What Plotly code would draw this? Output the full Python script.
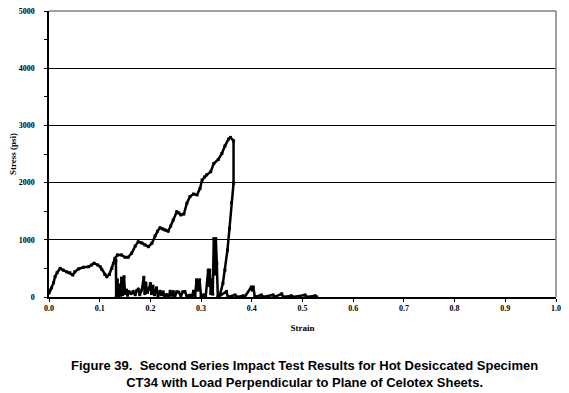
import plotly.graph_objects as go

# ---- data ----
main_strain = [0.000, 0.002, 0.005, 0.009, 0.012, 0.016, 0.022, 0.028, 0.035, 0.041, 0.047, 0.051,
               0.058, 0.068, 0.078, 0.084, 0.089, 0.096, 0.101, 0.104, 0.110, 0.114, 0.119, 0.124,
               0.127, 0.130, 0.135, 0.143, 0.150, 0.156, 0.163, 0.170, 0.176, 0.183, 0.189, 0.196,
               0.203, 0.209, 0.214, 0.219, 0.224, 0.229, 0.235, 0.240, 0.245, 0.252, 0.256, 0.260,
               0.266, 0.272, 0.278, 0.285, 0.292, 0.298, 0.302, 0.307, 0.311, 0.319, 0.325, 0.334,
               0.341, 0.347, 0.354, 0.358, 0.364, 0.364]
main_stress = [70, 120, 160, 250, 355, 425, 500, 470, 440, 425, 385, 440,
               490, 520, 530, 560, 590, 560, 530, 485, 395, 355, 395, 500,
               590, 675, 735, 735, 695, 695, 765, 890, 965, 945, 910, 880,
               940, 1070, 1150, 1210, 1190, 1170, 1150, 1240, 1345, 1490, 1470, 1435,
               1450, 1640, 1755, 1800, 1785, 1900, 2045, 2100, 2135, 2190, 2335, 2405,
               2510, 2640, 2760, 2790, 2730, 1990]

rise_strain = [0.334, 0.337, 0.343, 0.347, 0.352, 0.356, 0.360, 0.364]
rise_stress = [0, 35, 240, 470, 820, 1200, 1650, 1990]

noise_strain = [0.132, 0.1325, 0.135, 0.137, 0.139, 0.141, 0.143, 0.145, 0.148, 0.150, 0.153, 0.155,
                0.158, 0.162, 0.166, 0.170, 0.173, 0.176, 0.179, 0.183, 0.187, 0.189, 0.191, 0.194,
                0.197, 0.200, 0.202, 0.205, 0.208, 0.212, 0.215, 0.219, 0.222, 0.225, 0.228, 0.232,
                0.236, 0.239, 0.242, 0.245, 0.248, 0.252, 0.256, 0.260, 0.264, 0.268, 0.272, 0.277,
                0.281, 0.285, 0.288, 0.291, 0.294, 0.297, 0.300, 0.305, 0.309, 0.314, 0.316, 0.317,
                0.319, 0.321, 0.323, 0.325, 0.327, 0.329, 0.331, 0.333, 0.350, 0.353, 0.367, 0.370,
                0.383, 0.386, 0.399, 0.401, 0.403, 0.406, 0.419, 0.422, 0.442, 0.445, 0.459, 0.462,
                0.478, 0.481, 0.505, 0.508, 0.525, 0.528]
noise_stress = [640, 0, 300, 20, 210, 30, 330, 40, 355, 60, 120, 30,
                90, 60, 95, 40, 110, 135, 40, 120, 345, 60, 245, 80,
                140, 235, 60, 190, 40, 160, 20, 100, 40, 90, 0, 40,
                0, 100, 30, 95, 0, 90, 85, 20, 90, 95, 10, 30,
                0, 100, 0, 300, 120, 300, 0, 35, 0, 470, 200, 470,
                60, 300, 50, 1020, 400, 1020, 590, 0, 95, 0, 35, 0,
                20, 0, 175, 120, 175, 0, 35, 0, 35, 0, 55, 0,
                20, 0, 35, 0, 20, 0]

x_ticks = [0.0, 0.1, 0.2, 0.3, 0.4, 0.5, 0.6, 0.7, 0.8, 0.9, 1.0]
y_ticks = [0, 1000, 2000, 3000, 4000, 5000]

caption = ("Figure 39.  Second Series Impact Test Results for Hot Desiccated Specimen<br>"
           "CT34 with Load Perpendicular to Plane of Celotex Sheets.")

tick_font = dict(family="Liberation Serif", size=8, color="black", weight="bold")
line_style = dict(color="black", width=2.5)
marker_style = dict(color="black", size=3, symbol="square")

fig = go.Figure()
fig.add_trace(go.Scatter(x=noise_strain, y=noise_stress, mode="lines+markers",
                         line=line_style, marker=marker_style, showlegend=False))
fig.add_trace(go.Scatter(x=main_strain, y=main_stress, mode="lines+markers",
                         line=line_style, marker=marker_style, showlegend=False))
fig.add_trace(go.Scatter(x=rise_strain, y=rise_stress, mode="lines+markers",
                         line=line_style, marker=marker_style, showlegend=False))

# the page body adds an 8px offset, so the figure is sized to fit the remaining window
fig.update_layout(
    width=561, height=385,
    margin=dict(l=41, r=13, t=3, b=96),
    paper_bgcolor="white", plot_bgcolor="white",
    xaxis=dict(range=[0, 1], tickvals=x_ticks, ticktext=[f"{v:.1f}" for v in x_ticks],
               automargin=False, ticklabeloverflow="allow",
               showgrid=False, zeroline=False, showline=True, linecolor="black", linewidth=1.5,
               ticks="outside", ticklen=3, tickcolor="black", tickwidth=1,
               tickfont=tick_font,
               title=dict(text="Strain", standoff=12,
                          font=dict(family="Liberation Serif", size=9, color="black", weight="bold"))),
    yaxis=dict(range=[0, 5000], tickvals=y_ticks, ticktext=[str(v) for v in y_ticks],
               automargin=False, ticklabeloverflow="allow",
               showgrid=True, gridcolor="black", gridwidth=1, zeroline=False,
               showline=True, linecolor="black", linewidth=1.5,
               ticks="outside", ticklen=3, tickcolor="black", tickwidth=1,
               ticklabelstandoff=8,
               minor=dict(dtick=500, ticks="outside", ticklen=3, tickcolor="black", showgrid=False),
               tickfont=tick_font,
               title=dict(text="Stress (psi)", standoff=2,
                          font=dict(family="Liberation Serif", size=9, color="black", weight="bold"))),
    shapes=[
        dict(type="line", xref="paper", yref="paper", x0=0, x1=1, y0=1, y1=1,
             line=dict(color="#808080", width=1.5)),
        dict(type="line", xref="paper", yref="paper", x0=1, x1=1, y0=0, y1=1,
             line=dict(color="#808080", width=1.5)),
    ],
    annotations=[
        dict(text=caption, xref="paper", yref="paper", x=0.504, y=-0.205,
             xanchor="center", yanchor="top", showarrow=False, align="center",
             font=dict(family="Arial, Liberation Sans", size=13, color="black", weight="bold"))
    ],
)

fig.write_html("out.html")
